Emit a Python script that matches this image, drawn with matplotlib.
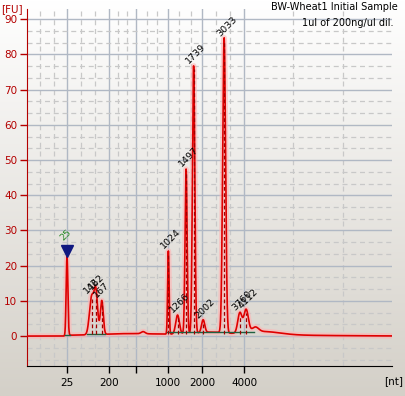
import matplotlib
matplotlib.use('Agg')
import matplotlib.pyplot as plt
import numpy as np
from matplotlib.colors import LinearSegmentedColormap

# ladder sizes (nt) and their migration times (s)
ladder_nt = [25, 200, 500, 1000, 2000, 4000]
ladder_lbl = ['25', '200', '', '1000', '2000', '4000']
ladder_t = [22.0, 28.4, 32.52, 37.4, 42.58, 48.98]
t_min, t_max = 15.9, 71.54

# peak table: time (s), height (FU), width (s)
peak_t = [22.0, 25.75, 26.4, 27.3, 33.6, 37.45, 38.85, 40.15, 41.3, 42.75, 45.95, 48.35, 49.3, 50.7]
peak_h = [22.6, 10.6, 11.8, 9.6, 0.6, 23.6, 5.4, 46.8, 76.0, 3.6, 83.8, 5.8, 6.6, 1.4]
peak_w = [0.13, 0.33, 0.27, 0.22, 0.3, 0.11, 0.28, 0.16, 0.18, 0.24, 0.22, 0.32, 0.34, 0.5]

# broad background humps: time (s), height (FU), width (s)
bg_t = [40.0, 31.0, 52.0, 44.0]
bg_h = [0.55, 0.25, 0.9, 0.6]
bg_w = [14.0, 3.0, 2.5, 2.0]

# labelled peaks
lab_nt = ['1024', '1266', '1497', '1739', '2002', '3033', '3760', '4112', '142', '162', '167']
lab_t = [37.45, 38.85, 40.15, 41.3, 42.75, 45.95, 48.35, 49.3, 25.75, 26.4, 27.3]
lab_h = [23.6, 5.4, 46.8, 76.0, 3.6, 83.8, 5.8, 6.6, 10.8, 12.0, 9.6]

red = '#e00000'
dark_red = '#b40000'

t = np.linspace(t_min, t_max, 4000)
fu = np.zeros_like(t)
for c, h, w in zip(bg_t, bg_h, bg_w):
    fu += h * np.exp(-0.5 * ((t - c) / w) ** 2)
fu[t < 22.3] *= 0.0
for c, h, w in zip(peak_t, peak_h, peak_w):
    fu += h * np.exp(-0.5 * ((t - c) / w) ** 2)

fig = plt.figure(figsize=(4.05, 3.96), dpi=100)

# gradient background
bg = fig.add_axes([0, 0, 1, 1], zorder=-5)
grad = np.linspace(0, 1, 256)[:, None]
cm = LinearSegmentedColormap.from_list('bg', ['#ffffff', '#d4d0c8'])
bg.imshow(grad, aspect='auto', cmap=cm, extent=[0, 1, 0, 1])
bg.axis('off')

ax = fig.add_axes([27 / 405, 1 - 366 / 396, 365 / 405, 357 / 396])
ax.patch.set_alpha(0)
ax.set_xlim(t_min, t_max)
ax.set_ylim(-8.5, 92.9)

# grid: solid at ladder/10 FU, dashed thirds in between
bounds = [t_min] + ladder_t + [t_max]
for a, b in zip(bounds[:-1], bounds[1:]):
    for f in (1 / 3, 2 / 3):
        ax.axvline(a + (b - a) * f, color='#c8c8c8', lw=0.9, ls=(0, (4, 3)), zorder=0)
for x in ladder_t:
    ax.axvline(x, color='#b0b8c4', lw=1, zorder=0)
for y in np.arange(-10, 95, 10):
    ax.axhline(y, color='#b0b8c4', lw=1, zorder=0)
    for f in (10 / 3, 20 / 3):
        ax.axhline(y + f, color='#c8c8c8', lw=0.9, ls=(0, (4, 3)), zorder=0)

# trace with glow
ax.plot(t, fu, color='#ffb4b4', lw=4, alpha=0.6, zorder=2, solid_capstyle='butt')
ax.plot(t, fu, color=red, lw=1.2, zorder=3)

# baseline segments and peak drop lines
ax.plot([21.7, 22.4], [0.3, 0.3], color='#206040', lw=1, zorder=4)
ax.plot([25.0, 27.8], [0.6, 0.6], color='#206040', lw=1, zorder=4)
ax.plot([37.2, 50.5], [1.1, 1.1], color='#206040', lw=1, zorder=4)
for x, h in zip(lab_t, lab_h):
    ax.plot([x, x], [0.6, h], color='#a00000', lw=0.9, ls=(0, (3, 2)), zorder=4)

for s, x, h in zip(lab_nt, lab_t, lab_h):
    ax.text(x - 0.45, h + 0.8, s, rotation=45, rotation_mode='anchor', ha='left',
            va='bottom', fontsize=6.8, color='black', zorder=6)

# marker peak
ax.plot([22.0], [24.3], marker='v', color='#101880', ms=8, zorder=6)
ax.text(21.6, 26.6, '25', rotation=45, rotation_mode='anchor', ha='left', va='bottom',
        fontsize=6.8, color='#2a8a2a', zorder=6)

ax.set_xticks(ladder_t)
ax.set_xticklabels(ladder_lbl, fontsize=7.5)
ax.set_yticks(np.arange(0, 91, 10))
ax.set_yticklabels([str(v) for v in range(0, 91, 10)], fontsize=7.5, color=dark_red)
ax.tick_params(axis='x', direction='out', length=5, width=1, color='black', pad=4)
ax.tick_params(axis='y', direction='out', length=5, width=1, color=dark_red, pad=2)
for s in ('top', 'right'):
    ax.spines[s].set_visible(False)
ax.spines['left'].set_color(dark_red)
ax.spines['bottom'].set_color('black')

fig.text(1 / 405, 1 - 9 / 396, '[FU]', color=dark_red, fontsize=7.5, va='center', ha='left')
fig.text(384 / 405, 1 - 381 / 396, '[nt]', color='black', fontsize=7.5, va='center', ha='left')
fig.text(398 / 405, 1 - 7 / 396, 'BW-Wheat1 Initial Sample', fontsize=7, ha='right', va='center')
fig.text(393 / 405, 1 - 23 / 396, '1ul of 200ng/ul dil.', fontsize=7, ha='right', va='center')

plt.savefig('out.png', dpi=100)
